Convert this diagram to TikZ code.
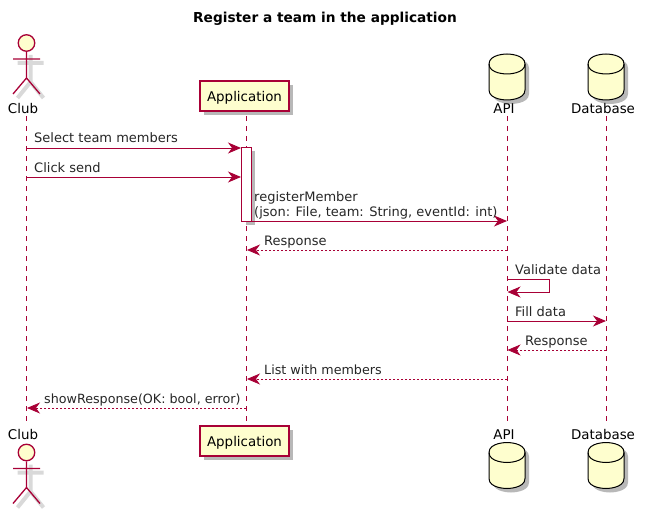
\documentclass[tikz,border=0pt]{standalone}
\usepackage{fontspec}
\setmainfont{DejaVu Sans}
\definecolor{LineRed}{HTML}{A80036}
\definecolor{BoxYellow}{HTML}{FEFECE}
\usetikzlibrary{arrows.meta, positioning, shapes.geometric, shadows}

\begin{document}
\begin{tikzpicture}[x=1pt, y=-1pt,
        softshadow/.style={drop shadow={shadow xshift=4pt, shadow yshift=-4pt, fill=black, opacity=0.28}},
        partbox/.style={rectangle, draw=LineRed, line width=1.2pt, fill=BoxYellow, softshadow, minimum width=89pt, minimum height=30pt, inner sep=0pt, text depth=0pt, font=\fontsize{13.4}{16}\selectfont},
        partlabel/.style={inner sep=0pt, font=\fontsize{13.4}{16}\selectfont},
        msglabel/.style={anchor=base west, inner sep=0pt, text=black!85, font=\fontsize{13}{15}\selectfont},
        narrowlabel/.style={msglabel, font=\fontsize{12.7}{15}\selectfont},
        lifeline/.style={LineRed, line width=0.8pt, dash pattern=on 5pt off 5pt},
        activation/.style={rectangle, draw=LineRed, line width=0.9pt, fill=white, softshadow, minimum width=9.5pt, minimum height=74pt, inner sep=0pt},
        arrow/.style={-{Stealth[length=13pt, width=11pt, inset=4pt]}, LineRed, line width=0.9pt},
        backarrow/.style={-{Stealth[length=13pt, width=11pt, inset=4pt]}, LineRed, line width=0.8pt, dash pattern=on 2pt off 2pt},
        actorfig/.pic={
            \draw[black, opacity=0.15, line width=4pt] (-9,20) -- (17,20) (4,12) -- (4,39) (-9,55) -- (4,39) -- (17,55);
            \node[circle, draw=LineRed, line width=1.3pt, fill=BoxYellow, minimum size=16.5pt, inner sep=0pt] (-head) at (0,0) {};
            \draw[LineRed, line width=1.3pt] (-head.south) -- (0,35) (-13.5,16) -- (13.5,16) (-13.5,51) -- (0,35) -- (13.5,51);
        },
        dbfig/.pic={
            \draw[black, line width=1pt, fill=BoxYellow, softshadow] (-18,-13) .. controls (-18,-23) and (0,-23) .. (0,-23)
                .. controls (0,-23) and (18,-23) .. (18,-13) -- (18,13)
                .. controls (18,23) and (0,23) .. (0,23)
                .. controls (0,23) and (-18,23) .. (-18,13) -- cycle;
            \draw[black, line width=1pt] (-18,-13) .. controls (-18,-3) and (0,-3) .. (0,-3)
                .. controls (0,-3) and (18,-3) .. (18,-13);
        }
    ]
        \useasboundingbox (0,0) rectangle (647,513);
        \node[font=\fontsize{13.7}{16}\selectfont\bfseries] (title) at (325,18.5) {Register a team in the application};

        % head of the columns
        \pic (clubtop) at (26.5,43) {actorfig};
        \node[partlabel] (clublabel) at (23,108.5) {Club};
        \node[partbox] (apptop) at (244.5,96) {Application};
        \pic (apitop) at (507,77) {dbfig};
        \node[partlabel] (apilabel) at (504,108.5) {API};
        \pic (dbtop) at (606,77) {dbfig};
        \node[partlabel] (dblabel) at (603,108.5) {Database};

        % foot of the columns
        \node[partlabel] (clublabelb) at (23,434.5) {Club};
        \pic (clubfoot) at (26.5,452.5) {actorfig};
        \node[partbox] (appfoot) at (244.5,441) {Application};
        \node[partlabel] (apilabelb) at (504,434.5) {API};
        \pic (apifoot) at (507,465.5) {dbfig};
        \node[partlabel] (dblabelb) at (603,434.5) {Database};
        \pic (dbfoot) at (606,465.5) {dbfig};

        % lifelines
        \coordinate (clubA) at (26.5,116);
        \coordinate (clubB) at (26.5,422);
        \coordinate (appA) at (246.5,116);
        \coordinate (appB) at (246.5,425);
        \coordinate (apiA) at (507.5,116);
        \coordinate (apiB) at (507.5,422);
        \coordinate (dbA) at (606.5,116);
        \coordinate (dbB) at (606.5,422);
        \draw[lifeline] (clubA) -- (clubB);
        \draw[lifeline] (appA) -- (appB);
        \draw[lifeline] (apiA) -- (apiB);
        \draw[lifeline] (dbA) -- (dbB);
        \node[activation] (act) at (246.5,184) {};

        % message ends
        \coordinate (club1) at (26.5,148);
        \coordinate (app1) at (241,148);
        \coordinate (club2) at (26.5,177);
        \coordinate (app2) at (241,177);
        \coordinate (app3) at (251,221);
        \coordinate (api3) at (507,221);
        \coordinate (api4) at (507,250);
        \coordinate (app4) at (247,250);
        \coordinate (api5) at (507,279);
        \coordinate (turn5) at (549.5,279);
        \coordinate (turn6) at (549.5,292);
        \coordinate (api6) at (507.5,292);
        \coordinate (api7) at (507,321);
        \coordinate (db7) at (606,321);
        \coordinate (db8) at (606,350);
        \coordinate (api8) at (507.5,350);
        \coordinate (api9) at (507,379);
        \coordinate (app9) at (247,379);
        \coordinate (app10) at (246,408);
        \coordinate (club10) at (27,408);

        \draw[arrow] (club1) -- (app1);
        \draw[arrow] (club2) -- (app2);
        \draw[arrow] (app3) -- (api3);
        \draw[backarrow] (api4) -- (app4);
        \draw[arrow] (api5) -- (turn5) -- (turn6) -- (api6);
        \draw[arrow] (api7) -- (db7);
        \draw[backarrow] (db8) -- (api8);
        \draw[backarrow] (api9) -- (app9);
        \draw[backarrow] (app10) -- (club10);

        \node[msglabel] (m1) at (34,143) {Select team members};
        \node[msglabel] (m2) at (34,172) {Click send};
        \node[msglabel] (m3a) at (254,201) {registerMember};
        \node[msglabel] (m3b) at (254,216) {(json: File, team: String, eventId: int)};
        \node[msglabel] (m4) at (264,245) {Response};
        \node[msglabel] (m5) at (515,274) {Validate data};
        \node[msglabel] (m6) at (515,316) {Fill data};
        \node[msglabel] (m7) at (525,345) {Response};
        \node[narrowlabel] (m8) at (264,374) {List with members};
        \node[narrowlabel] (m9) at (44,403) {showResponse(OK: bool, error)};
    \end{tikzpicture}
\end{document}
